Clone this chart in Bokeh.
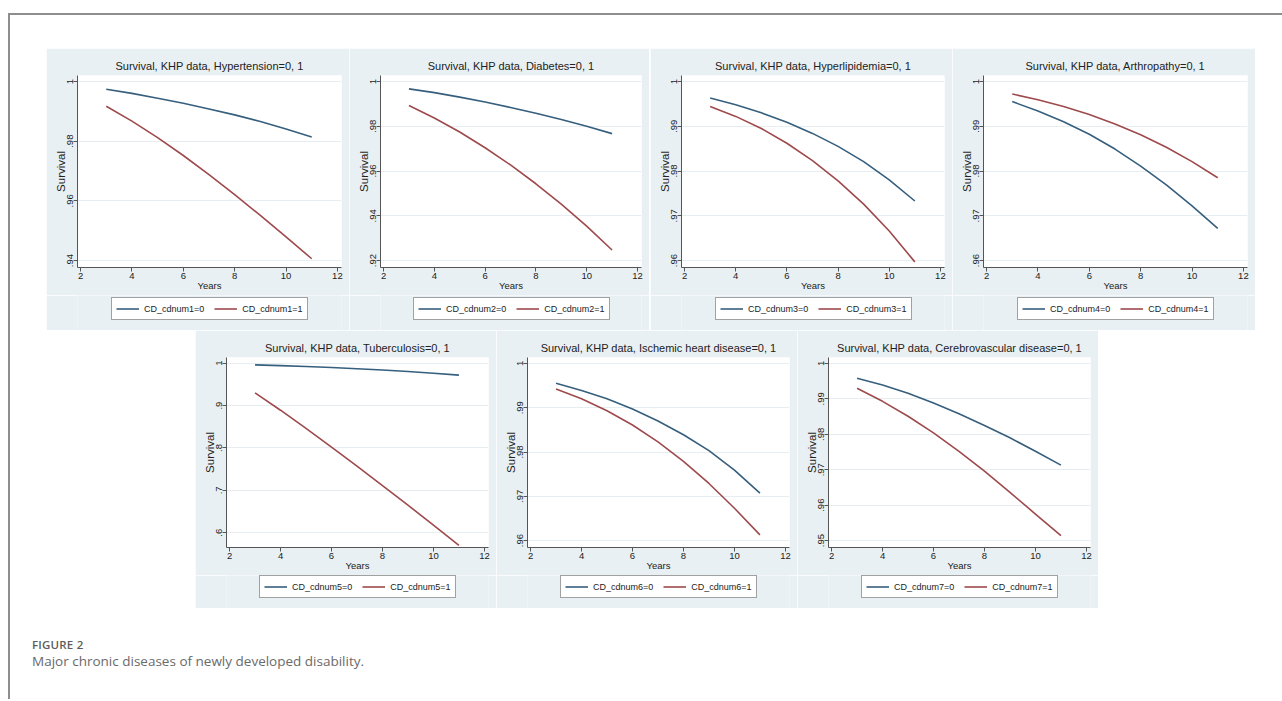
from bokeh.plotting import figure
from bokeh.models import (Div, Spacer, Legend, LegendItem, FixedTicker,
                          CustomJSTickFormatter, Range1d)
from bokeh.layouts import column, row
from bokeh.core.properties import value
from bokeh.embed import file_html
from bokeh.resources import INLINE

# ---------------- data ----------------
years = [3, 4, 5, 6, 7, 8, 9, 10, 11]
x_ticks = [2, 4, 6, 8, 10, 12]

hyper_0 = [.9974, .9960, .9944, .9927, .9908, .9888, .9866, .9841, .9814]
hyper_1 = [.9917, .9867, .9812, .9752, .9688, .9621, .9551, .9479, .9406]
hyper_ticks = [.94, .96, .98, 1.0]

diab_0 = [.9967, .9950, .9930, .9908, .9884, .9858, .9830, .9800, .9767]
diab_1 = [.9893, .9837, .9774, .9704, .9627, .9543, .9452, .9354, .9247]
diab_ticks = [.92, .94, .96, .98, 1.0]

lipid_0 = [.9963, .9948, .9930, .9909, .9884, .9855, .9821, .9780, .9733]
lipid_1 = [.9944, .9922, .9895, .9862, .9823, .9778, .9726, .9666, .9597]
lipid_ticks = [.96, .97, .98, .99, 1.0]

arthro_0 = [.9955, .9934, .9910, .9882, .9849, .9811, .9769, .9722, .9672]
arthro_1 = [.9972, .9959, .9944, .9926, .9905, .9881, .9853, .9821, .9785]
arthro_ticks = [.96, .97, .98, .99, 1.0]

tb_0 = [.9960, .9942, .9921, .9896, .9868, .9837, .9802, .9762, .9717]
tb_1 = [.930, .889, .846, .802, .757, .711, .665, .618, .570]
tb_ticks = [.6, .7, .8, .9, 1.0]

ihd_0 = [.9955, .9939, .9920, .9897, .9870, .9839, .9803, .9759, .9707]
ihd_1 = [.9942, .9920, .9893, .9861, .9823, .9779, .9729, .9673, .9613]
ihd_ticks = [.96, .97, .98, .99, 1.0]

cvd_0 = [.9958, .9939, .9916, .9888, .9858, .9825, .9790, .9752, .9713]
cvd_1 = [.9930, .9893, .9851, .9804, .9752, .9696, .9636, .9575, .9514]
cvd_ticks = [.95, .96, .97, .98, .99, 1.0]

titles = ["Survival, KHP data, Hypertension=0, 1",
          "Survival, KHP data, Diabetes=0, 1",
          "Survival, KHP data, Hyperlipidemia=0, 1",
          "Survival, KHP data, Arthropathy=0, 1",
          "Survival, KHP data, Tuberculosis=0, 1",
          "Survival, KHP data, Ischemic heart disease=0, 1",
          "Survival, KHP data, Cerebrovascular disease=0, 1"]

# ---------------- styles ----------------
BG = "#e9f0f3"
GRID = "#e6eef1"
BLUE = "#365f7e"
RED = "#9e4a4c"
AXIS = "#555555"
TXT = "#222222"
FONT = "Liberation Sans"
LEG_W = 195


def panel(idx, title, s0, s1, yticks, dec, width, height, frame_h, leg_gap):
    span = max(yticks) - min(yticks)
    lo = min(min(yticks) - span * 7 / 180, min(s0 + s1) - span * 0.012)
    hi = max(yticks) + span * 6 / 180
    main_h = 27 + frame_h + 28
    p = figure(width=width, height=main_h,
               x_range=Range1d(1.88, 12.16), y_range=Range1d(lo, hi),
               output_backend="svg", toolbar_location=None,
               min_border_left=31, min_border_right=8,
               min_border_top=27, min_border_bottom=28,
               background_fill_color="white", border_fill_color=BG,
               outline_line_color=None, title=title)
    p.title.text_font = FONT
    p.title.text_font_size = "11px"
    p.title.text_font_style = "normal"
    p.title.text_color = TXT
    p.title.align = "center"
    p.title.standoff = 7

    p.line(years, s0, line_color=BLUE, line_width=1.6)
    p.line(years, s1, line_color=RED, line_width=1.6)

    p.xaxis.ticker = FixedTicker(ticks=x_ticks)
    p.yaxis.ticker = FixedTicker(ticks=yticks)
    p.yaxis.formatter = CustomJSTickFormatter(
        code="if (Math.abs(tick - 1) < 1e-9) { return '1'; } "
             "return tick.toFixed(%d).replace(/^0/, '');" % dec)
    p.yaxis.major_label_orientation = "vertical"
    p.xaxis.axis_label = "Years"
    p.yaxis.axis_label = "Survival"
    for ax in (p.xaxis, p.yaxis):
        ax.axis_line_color = AXIS
        ax.major_tick_line_color = AXIS
        ax.major_tick_in = 0
        ax.major_tick_out = 4
        ax.minor_tick_line_color = None
        ax.major_label_text_font = FONT
        ax.major_label_text_font_size = "9.5px"
        ax.major_label_text_color = TXT
        ax.major_label_standoff = 1
        ax.axis_label_text_font = FONT
        ax.axis_label_text_font_style = "normal"
        ax.axis_label_text_color = TXT
    p.xaxis.axis_label_text_font_size = "9.5px"
    p.xaxis.axis_label_standoff = -2
    p.yaxis.major_label_standoff = 0
    p.yaxis.axis_label_text_font_size = "11.5px"
    p.yaxis.axis_label_standoff = -2
    p.xgrid.visible = False
    p.ygrid.grid_line_color = GRID
    p.ygrid.grid_line_width = 1

    # legend strip below the panel; its two lines repeat the series styles
    # (their data lie outside this strip's x range, so only the legend shows)
    leg_h = height - main_h
    lf = figure(width=width, height=leg_h,
                x_range=Range1d(100, 101), y_range=Range1d(0, 1),
                x_axis_location=None, y_axis_location=None,
                output_backend="svg", toolbar_location=None,
                min_border_left=0, min_border_right=0,
                min_border_top=0, min_border_bottom=0,
                background_fill_color=BG, border_fill_color=BG,
                outline_line_color=None)
    lf.grid.visible = False
    d0 = lf.line(years, s0, line_color=BLUE, line_width=1.6)
    d1 = lf.line(years, s1, line_color=RED, line_width=1.6)
    leg_box_h = 21
    leg = Legend(items=[LegendItem(label=value("CD_cdnum%d=0" % idx), renderers=[d0]),
                        LegendItem(label=value("CD_cdnum%d=1" % idx), renderers=[d1])],
                 orientation="horizontal",
                 location=((width - 39 - LEG_W) // 2, leg_h - leg_gap - leg_box_h),
                 border_line_color="#444444", border_line_width=1,
                 background_fill_color="white", background_fill_alpha=1,
                 label_text_font=FONT, label_text_font_size="9px",
                 label_text_color=TXT, glyph_width=23, glyph_height=13,
                 label_height=13, label_standoff=5, spacing=10, padding=4,
                 margin=0)
    lf.add_layout(leg, "center")
    return column(p, lf)


p1 = panel(1, titles[0], hyper_0, hyper_1, hyper_ticks, 2, 303, 282, 192, 4)
p2 = panel(2, titles[1], diab_0, diab_1, diab_ticks, 2, 300, 282, 192, 4)
p3 = panel(3, titles[2], lipid_0, lipid_1, lipid_ticks, 2, 302, 282, 192, 4)
p4 = panel(4, titles[3], arthro_0, arthro_1, arthro_ticks, 2, 303, 282, 192, 4)
p5 = panel(5, titles[4], tb_0, tb_1, tb_ticks, 1, 301, 278, 190, 2)
p6 = panel(6, titles[5], ihd_0, ihd_1, ihd_ticks, 2, 301, 278, 190, 2)
p7 = panel(7, titles[6], cvd_0, cvd_1, cvd_ticks, 2, 301, 278, 190, 2)

LINE = {"background-color": "#8e8e8e"}
top_line = Div(text="", width=1274, height=2, margin=0, styles=LINE)
left_line = Div(text="", width=2, height=684, margin=0, styles=LINE)

caption = Div(
    text=('<div style="font-family:\'Open Sans\'; padding-top:29px;">'
          '<div style="font-size:11.5px; font-weight:600; color:#5c5c5c; '
          'letter-spacing:0.2px; line-height:15px;">FIGURE 2</div>'
          '<div style="font-size:13.5px; color:#6a6a6a; line-height:19px;">'
          'Major chronic diseases of newly developed disability.</div></div>'),
    width=900, height=85, margin=0)

row1 = row(Spacer(width=36, height=282), p1, p2, Spacer(width=1, height=282), p3, p4)
row2 = row(Spacer(width=185, height=278), p5, p6, p7)
row3 = row(Spacer(width=22, height=85), caption)
inner = column(Spacer(width=10, height=33), row1, row2, row3)
body = column(Spacer(width=10, height=5), top_line, row(left_line, inner))
layout = row(Spacer(width=8, height=10), column(Spacer(width=10, height=8), body))

open("out.html", "w").write(file_html(layout, INLINE))
